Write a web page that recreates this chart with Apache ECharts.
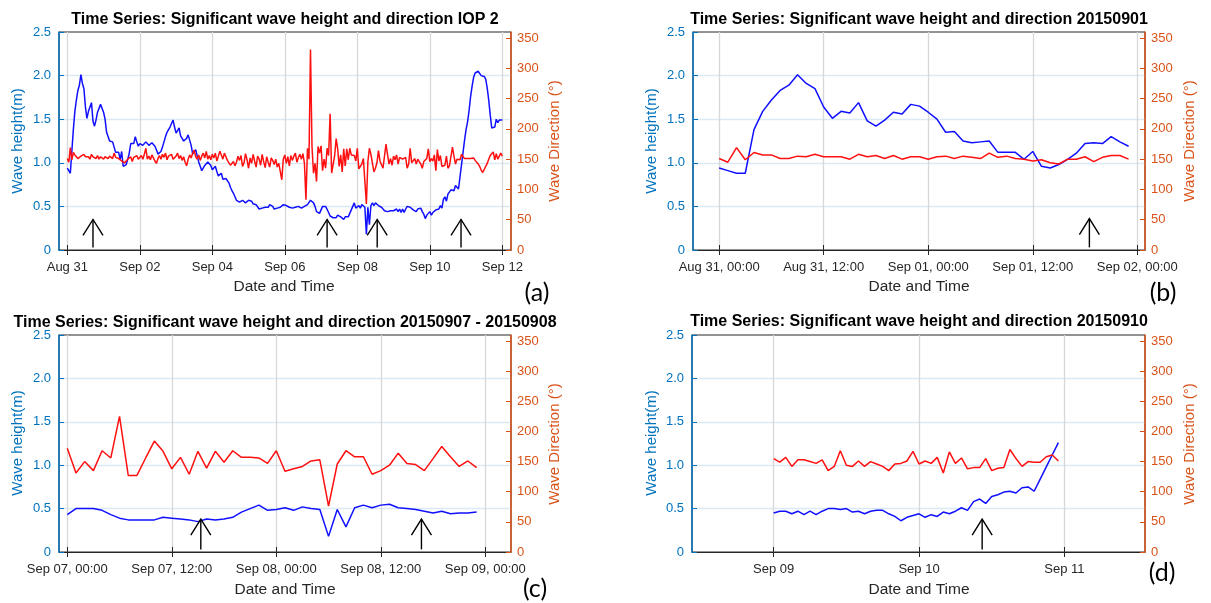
<!DOCTYPE html>
<html><head><meta charset="utf-8">
<script src="https://cdn.jsdelivr.net/npm/echarts@6/dist/echarts.min.js"></script>
<style>html,body{margin:0;padding:0;background:#fff}#c{width:1211px;height:603px}</style>
</head><body><div id="c"></div><script>
// ---------------- DATA (hourly values) ----------------
// Panel (b): 2015-08-31 00:00 .. 2015-09-01 23:00
const startB = '2015-08-31T00:00';
const heightB = [0.94,0.91,0.88,0.88,1.38,1.59,1.72,1.83, 1.89,2.01,1.91,1.85,1.64,1.51,1.59,1.57,
  1.69,1.48,1.42,1.49,1.58,1.56,1.67,1.65, 1.58,1.50,1.35,1.36,1.25,1.23,1.24,1.25,
  1.12,1.12,1.12,1.04,1.13,0.96,0.94,0.98, 1.04,1.11,1.22,1.23,1.22,1.30,1.24,1.19];
const dirB = [151,145,169,149,161,157,157,151, 151,155,154,158,154,154,154,150,
  158,154,156,151,156,150,154,154, 150,154,155,151,155,153,151,160,
  153,155,151,150,147,149,144,142, 150,150,154,146,153,156,156,150];
// Sep 02 00:00 .. Sep 06 23:00 (seen only in panel a)
const heightMid = [1.22,1.24,1.20,1.19,1.24,1.22,1.20,1.21, 1.23,1.24,1.19,1.15,1.10,1.11,1.13,1.18,
  1.24,1.30,1.35,1.37,1.41,1.45,1.49,1.41, 1.34,1.37,1.40,1.31,1.28,1.25,1.24,1.28,
  1.32,1.26,1.20,1.10,1.12,1.15,1.08,1.01, 0.96,0.91,0.93,0.97,0.99,1.01,1.03,0.97,
  0.92,0.94,0.96,0.90,0.85,0.86,0.88,0.81, 0.79,0.82,0.84,0.77,0.72,0.68,0.65,0.61,
  0.57,0.56,0.55,0.56,0.57,0.56,0.54,0.54, 0.57,0.59,0.56,0.53,0.52,0.52,0.50,0.47,
  0.46,0.48,0.49,0.49,0.48,0.49,0.52,0.54, 0.50,0.47,0.48,0.48,0.48,0.49,0.51,0.52,
  0.53,0.51,0.50,0.49,0.49,0.48,0.48,0.49, 0.50,0.50,0.49,0.48,0.48,0.50,0.52,0.52,
  0.53,0.57,0.59,0.54,0.50,0.44,0.43,0.42];
const dirMid = [152,156,150,158,168,150,155,149, 157,152,147,143,151,156,150,158,
  153,160,149,155,152,158,150,147, 155,160,151,156,148,154,145,139,
  150,157,152,160,165,154,150,157, 148,155,160,152,163,150,156,149,
  158,152,160,147,155,163,157,150, 160,154,148,144,140,138,146,139,
  145,155,148,156,138,144,159,149, 135,152,143,158,147,137,155,150,
  140,158,146,136,154,145,137,152, 148,141,150,137,143,130,116,150,
  157,143,154,139,156,148,155,160, 145,153,158,150,159,143,83,168,
  150,331,171,127,143,113,171,160];
// Panel (c): 2015-09-07 00:00 .. 2015-09-08 23:00
const startC = '2015-09-07T00:00';
const heightC = [0.43,0.50,0.50,0.50,0.48,0.43,0.39,0.37, 0.37,0.37,0.37,0.40,0.39,0.38,0.37,0.35,
  0.38,0.37,0.38,0.40,0.46,0.50,0.54,0.48, 0.49,0.51,0.48,0.52,0.50,0.49,0.18,0.49,
  0.29,0.51,0.54,0.51,0.54,0.55,0.51,0.50, 0.49,0.47,0.45,0.47,0.44,0.45,0.45,0.46];
const dirC = [172,131,150,135,168,156,225,127, 127,156,184,167,138,157,129,167,
  139,167,149,168,157,157,156,147, 168,134,138,142,151,153,76,146,
  168,158,158,129,135,144,164,147, 145,135,155,175,158,142,151,140];
// Panel (d): 2015-09-09 00:00 .. 2015-09-10 23:00
const startD = '2015-09-09T00:00';
const heightD = [0.45,0.47,0.47,0.44,0.47,0.43,0.47,0.43, 0.47,0.50,0.50,0.49,0.50,0.46,0.47,0.44,
  0.47,0.48,0.48,0.44,0.41,0.36,0.40,0.42, 0.44,0.40,0.43,0.41,0.46,0.44,0.47,0.51,
  0.48,0.58,0.61,0.56,0.64,0.66,0.69,0.70, 0.68,0.74,0.75,0.70,0.84,0.98,1.12,1.26];
const dirD = [155,149,157,142,153,153,150,147, 153,135,142,168,144,142,151,142,
  150,146,142,135,146,147,151,167, 146,151,147,157,131,166,147,156,
  138,140,140,155,135,139,140,170, 155,142,150,149,149,158,161,151];
// Sep 11 00:00 .. Sep 12 00:00 (seen only in panel a)
const heightEnd = [1.38,1.47,1.60,1.76,1.88,1.98,2.03,2.05, 2.05,2.03,2.00,2.01,1.99,1.96,1.86,1.72,
  1.55,1.40,1.40,1.41,1.50,1.46,1.49,1.50, 1.49];
const dirEnd = [154,151,153,151,150,152,148,146, 142,138,132,128,133,136,143,150,
  156,153,162,149,159,150,151,160, 155];
// Panel (a): whole IOP 2
const startA = '2015-08-31T00:00';
const heightA = [].concat(heightB, heightMid, heightC, heightD, heightEnd);
const dirA = [].concat(dirB, dirMid, dirC, dirD, dirEnd);

// Arrows: [time, tip height (m)]
const arrowsA = [['2015-08-31T17:00',0.35],['2015-09-07T04:00',0.35],['2015-09-08T13:10',0.35],['2015-09-10T20:40',0.35]];
const arrowsB = [['2015-09-01T18:30',0.36]];
const arrowsC = [['2015-09-07T15:20',0.38],['2015-09-08T16:40',0.38]];
const arrowsD = [['2015-09-10T10:25',0.38]];

// Tick labels (times)
const ticksA = ['2015-08-31','2015-09-02','2015-09-04','2015-09-06','2015-09-08','2015-09-10','2015-09-12'];
const ticksB = ['2015-08-31T00:00','2015-08-31T12:00','2015-09-01T00:00','2015-09-01T12:00','2015-09-02T00:00'];
const ticksC = ['2015-09-07T00:00','2015-09-07T12:00','2015-09-08T00:00','2015-09-08T12:00','2015-09-09T00:00'];
const ticksD = ['2015-09-09','2015-09-10','2015-09-11'];
const heightTicks = [0, 0.5, 1.0, 1.5, 2.0, 2.5];
const dirTicks = [0, 50, 100, 150, 200, 250, 300, 350];

const titles = ['Time Series: Significant wave height and direction IOP 2',
  'Time Series: Significant wave height and direction 20150901',
  'Time Series: Significant wave height and direction 20150907 - 20150908',
  'Time Series: Significant wave height and direction 20150910'];
const tags = ['(a)','(b)','(c)','(d)'];
const leftName = 'Wave height(m)', rightName = 'Wave Direction (°)', xName = 'Date and Time';

// ---------------- helpers ----------------
const MON = ['Jan','Feb','Mar','Apr','May','Jun','Jul','Aug','Sep','Oct','Nov','Dec'];
const pad = n => String(n).padStart(2,'0');
const T = s => Date.parse(s.length === 10 ? s + 'T00:00:00Z' : s + ':00Z');
const fmtDay = v => { const d = new Date(v); return MON[d.getUTCMonth()] + ' ' + pad(d.getUTCDate()); };
const fmtDayTime = v => { const d = new Date(v); return fmtDay(v) + ', ' + pad(d.getUTCHours()) + ':' + pad(d.getUTCMinutes()); };
const hourly = (start, vals) => { const t0 = T(start); return vals.map((v, i) => [t0 + i * 3600000, v]); };

const FONT = '"Liberation Sans", Arial, sans-serif';
const BLUE_AX = '#0072BD', ORANGE_AX = '#D95319', DARK = '#262626';

const panels = [
  { grid:{left:59, top:32, width:452, height:218}, range:['2015-08-30T18:30','2015-09-12T05:45'], ticks:ticksA, fmt:fmtDay,
    h:hourly(startA, heightA), d:hourly(startA, dirA), arrows:arrowsA,
    titlePos:[285,20], leftPos:[18,141], rightPos:[555,141], xPos:[284,287], tagPos:[537,293] },
  { grid:{left:693, top:32, width:452, height:218}, range:['2015-08-30T21:00','2015-09-02T00:53'], ticks:ticksB, fmt:fmtDayTime,
    h:hourly(startB, heightB), d:hourly(startB, dirB), arrows:arrowsB,
    titlePos:[919,20], leftPos:[652,141], rightPos:[1190,141], xPos:[919,287], tagPos:[1163,293] },
  { grid:{left:59, top:335, width:452, height:217}, range:['2015-09-06T23:03','2015-09-09T02:57'], ticks:ticksC, fmt:fmtDayTime,
    h:hourly(startC, heightC), d:hourly(startC, dirC), arrows:arrowsC,
    titlePos:[285,323], leftPos:[18,443], rightPos:[555,444], xPos:[285,590], tagPos:[535,589] },
  { grid:{left:692, top:335, width:453, height:217}, range:['2015-09-08T10:31','2015-09-11T13:18'], ticks:ticksD, fmt:fmtDay,
    h:hourly(startD, heightD), d:hourly(startD, dirD), arrows:arrowsD,
    titlePos:[919,322], leftPos:[652,443], rightPos:[1190,444], xPos:[919,590], tagPos:[1162,573] }
];

const grid = [], xAxis = [], yAxis = [], series = [], graphic = [];
panels.forEach((p, i) => {
  grid.push(Object.assign({show:true, borderColor:DARK, borderWidth:1, backgroundColor:'#fff'}, p.grid));
  const tv = p.ticks.map(T);
  const mn = T(p.range[0]), mx = T(p.range[1]);
  xAxis.push({ type:'value', gridIndex:i, min:mn, max:mx, position:'bottom',
    axisLine:{show:true, onZero:false, lineStyle:{color:DARK, width:1}},
    axisTick:{show:true, inside:true, length:5, customValues:tv, lineStyle:{color:DARK}},
    axisLabel:{customValues:tv, formatter:p.fmt, color:DARK, fontSize:13, fontFamily:FONT, margin:11},
    splitLine:{show:true, lineStyle:{color:'#d8d8d8', width:1.3}} });
  xAxis.push({ type:'value', gridIndex:i, min:mn, max:mx, position:'top',
    axisLine:{show:false}, axisLabel:{show:false}, splitLine:{show:false},
    axisTick:{show:true, inside:true, length:5, customValues:tv, lineStyle:{color:DARK}} });
  yAxis.push({ type:'value', gridIndex:i, position:'left', min:0, max:2.5, interval:0.5,
    axisLine:{show:true, lineStyle:{color:BLUE_AX, width:1.5}},
    axisTick:{show:true, inside:true, length:5, lineStyle:{color:BLUE_AX}},
    axisLabel:{color:BLUE_AX, fontSize:13, fontFamily:FONT, margin:8,
      formatter: v => v === 0 ? '0' : v.toFixed(1)},
    splitLine:{show:true, showMinLine:false, showMaxLine:false, lineStyle:{color:'#d9e9f6', width:1.3}} });
  yAxis.push({ type:'value', gridIndex:i, position:'right', min:0, max:360, interval:50,
    axisLine:{show:true, lineStyle:{color:ORANGE_AX, width:1.5}},
    axisTick:{show:true, inside:true, length:5, lineStyle:{color:ORANGE_AX}},
    axisLabel:{color:ORANGE_AX, fontSize:13, fontFamily:FONT, margin:6, showMaxLabel:false,
      formatter: v => dirTicks.indexOf(v) >= 0 ? String(v) : ''},
    splitLine:{show:false} });
  series.push({ type:'line', xAxisIndex:2*i, yAxisIndex:2*i, data:p.h, showSymbol:false, symbol:'none',
    lineStyle:{color:'#1010ff', width:1.5}, z:3, animation:false });
  series.push({ type:'line', xAxisIndex:2*i, yAxisIndex:2*i+1, data:p.d, showSymbol:false, symbol:'none',
    lineStyle:{color:'#ff1010', width:1.5}, z:3, animation:false });
  series.push({ type:'custom', xAxisIndex:2*i, yAxisIndex:2*i, z:4, animation:false,
    data:p.arrows.map(a => [T(a[0]), a[1]]),
    renderItem:(params, api) => {
      const top = api.coord([api.value(0), api.value(1)]);
      const bot = api.coord([api.value(0), 0.03]);
      return { type:'group', children:[
        { type:'line', shape:{x1:bot[0], y1:bot[1], x2:top[0], y2:top[1]}, style:{stroke:'#000', lineWidth:1.4} },
        { type:'polyline', shape:{points:[[top[0]-10, top[1]+16],[top[0], top[1]],[top[0]+10, top[1]+16]]},
          style:{stroke:'#000', fill:null, lineWidth:1.4} } ] };
    } });
  graphic.push({ type:'text', x:p.titlePos[0], y:p.titlePos[1], z:10,
    style:{text:titles[i], font:'bold 16px ' + FONT, fill:'#000', align:'center', verticalAlign:'middle'} });
  graphic.push({ type:'text', x:p.leftPos[0], y:p.leftPos[1], rotation:Math.PI/2, z:10,
    style:{text:leftName, font:'15px ' + FONT, fill:BLUE_AX, align:'center', verticalAlign:'middle'} });
  graphic.push({ type:'text', x:p.rightPos[0], y:p.rightPos[1], rotation:Math.PI/2, z:10,
    style:{text:rightName, font:'15px ' + FONT, fill:ORANGE_AX, align:'center', verticalAlign:'middle'} });
  graphic.push({ type:'text', x:p.xPos[0], y:p.xPos[1], z:10,
    style:{text:xName, font:'15.5px ' + FONT, fill:DARK, align:'center', verticalAlign:'middle'} });
  graphic.push({ type:'text', x:p.tagPos[0], y:p.tagPos[1], z:10,
    style:{text:tags[i], font:'25px Lato, "Open Sans", sans-serif', fill:'#000', align:'center', verticalAlign:'middle'} });
});

const chart = echarts.init(document.getElementById('c'), null, {renderer:'canvas'});
chart.setOption({ animation:false, backgroundColor:'#fff', grid, xAxis, yAxis, series, graphic });
</script></body></html>
